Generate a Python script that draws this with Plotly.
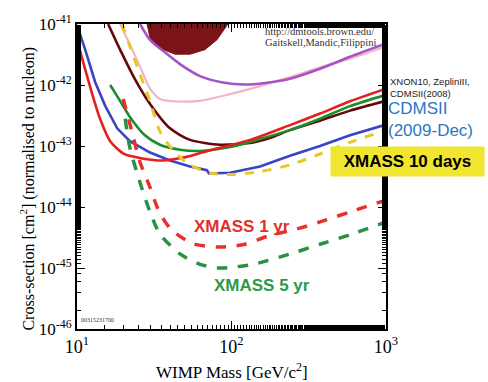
import plotly.graph_objects as go

# ---------------- data (WIMP mass [GeV], cross-section [cm^2]) ----------------
purple_m = [25.6, 29.7, 37.2, 46.4, 62.5, 88, 122, 165, 239, 374, 585, 1000]
purple_s = [1e-41, 5.5e-42, 3.4e-42, 2.2e-42, 1.4e-42, 1.1e-42, 1.02e-42, 1.08e-42, 1.27e-42, 1.85e-42, 2.9e-42, 4.8e-42]

pink_m = [19.0, 22.0, 25.6, 29.7, 34.4, 43.1, 62.5, 97.8, 153, 239, 374, 585, 1000]
pink_s = [1e-41, 4.6e-42, 2.0e-42, 8.7e-43, 5.9e-43, 5.4e-43, 5.5e-43, 7.1e-43, 9.6e-43, 1.35e-42, 1.95e-42, 2.7e-42, 4.3e-42]

dama_m = [28.4, 29.7, 34.4, 43.1, 53.9, 67.3, 80.5, 94.8, 94.8, 28.4]
dama_s = [1e-41, 5.9e-42, 4.0e-42, 3.2e-42, 3.2e-42, 3.8e-42, 5.5e-42, 9.6e-42, 1e-41, 1e-41]

maroon_m = [15.9, 19.0, 23.7, 29.7, 40.0, 53.9, 84.3, 132, 177, 239, 374, 585, 1000]
maroon_s = [1e-41, 3.8e-42, 1.25e-42, 4.9e-43, 1.95e-43, 1.26e-43, 1.05e-43, 1.12e-43, 1.35e-43, 1.82e-43, 2.6e-43, 3.8e-43, 5.5e-43]

red_m = [10, 11.3, 12.7, 14.1, 16.4, 20.0, 27.0, 36.0, 48.0, 70.0, 132, 239, 374, 585, 1000]
red_s = [5.5e-42, 1.8e-42, 6.4e-43, 2.8e-43, 1.2e-43, 7.5e-44, 6.2e-44, 5.8e-44, 6.4e-44, 8.3e-44, 1.26e-43, 2.2e-43, 3.4e-43, 5.4e-43, 8.7e-43]

green_m = [16.4, 19.0, 22.0, 27.5, 34.4, 46.4, 62.5, 97.8, 153, 239, 374, 585, 1000]
green_s = [1.0e-42, 5.5e-43, 3.0e-43, 1.5e-43, 1.05e-43, 8.7e-44, 8.3e-44, 9.6e-44, 1.3e-43, 1.82e-43, 2.8e-43, 4.5e-43, 6.9e-43]

blue_m = [10, 11.3, 13.1, 15.2, 18.2, 22.0, 29.7, 40.0, 53.9, 69.3, 71.5, 97.8, 153, 239, 374, 585, 1000]
blue_s = [9.6e-42, 3.8e-42, 1.12e-42, 4.6e-43, 1.95e-43, 1.2e-43, 7.8e-44, 5.8e-44, 4.6e-44, 4.0e-44, 3.55e-44, 3.65e-44, 4.6e-44, 6.9e-44, 1.0e-43, 1.5e-43, 2.25e-43]

yellow_m = [19.6, 22.0, 25.6, 29.7, 34.4, 43.1, 53.9, 72.6, 97.8, 153, 239, 374, 585, 1000]
yellow_s = [1e-41, 4.3e-42, 1.5e-42, 5.4e-43, 1.74e-43, 7.8e-44, 4.9e-44, 3.6e-44, 3.4e-44, 3.8e-44, 4.9e-44, 7.4e-44, 1.15e-43, 1.8e-43]

x1yr_m = [19.9, 22.0, 25.6, 29.7, 33.0, 37.2, 41.8, 56.4, 84.3, 122, 170, 277, 374, 585, 1000]
x1yr_s = [5.9e-43, 2.3e-43, 5.4e-44, 2.1e-44, 1.0e-44, 5.7e-45, 4.0e-45, 2.5e-45, 2.2e-45, 2.45e-45, 3.3e-45, 4.5e-45, 5.7e-45, 8.3e-45, 1.3e-44]

x5yr_m = [20.5, 22.0, 25.6, 29.7, 34.4, 46.4, 62.5, 84.3, 138, 239, 374, 585, 1000]
x5yr_s = [2.8e-43, 9.3e-44, 2.5e-44, 8.3e-45, 3.6e-45, 1.7e-45, 1.15e-45, 1.0e-45, 1.15e-45, 1.7e-45, 2.45e-45, 3.5e-45, 5.7e-45]

x_tickvals = [10, 100, 1000]
x_ticktext = ["10<sup>1</sup>", "10<sup>2</sup>", "10<sup>3</sup>"]
y_tickvals = [1e-41, 1e-42, 1e-43, 1e-44, 1e-45, 1e-46]
y_ticktext = ["10<sup>-41</sup>", "10<sup>-42</sup>", "10<sup>-43</sup>",
              "10<sup>-44</sup>", "10<sup>-45</sup>", "10<sup>-46</sup>"]

# ---------------- figure ----------------
fig = go.Figure()

fig.add_trace(go.Scatter(x=dama_m, y=dama_s, mode="lines", fill="toself",
                         fillcolor="#7a1418", line=dict(color="#7a1418", width=1),
                         hoverinfo="skip"))

def line(xs, ys, color, width=2.6, dash="solid", shape="spline"):
    fig.add_trace(go.Scatter(x=xs, y=ys, mode="lines",
                             line=dict(color=color, width=width, dash=dash, shape=shape,
                                       smoothing=0.7)))

line(pink_m, pink_s, "#f2b6bf", 2.2)
line(purple_m, purple_s, "#a752c6", 2.6)
line(maroon_m, maroon_s, "#65080d", 2.6)
line(blue_m, blue_s, "#3a44c4", 2.6, shape="linear")
line(green_m, green_s, "#1c8c2c", 2.6)
line(red_m, red_s, "#e4201e", 2.6)
line(yellow_m, yellow_s, "#ebc726", 3, "dash")
line(x1yr_m, x1yr_s, "#e8302c", 3.5, "dash")
line(x5yr_m, x5yr_s, "#2a9042", 3.5, "dash")

serif = "Liberation Serif, Times New Roman, serif"
sans = "Liberation Sans, Arial, sans-serif"

fig.update_layout(
    width=488, height=382,
    margin=dict(l=77, r=102, t=19, b=53),
    paper_bgcolor="white", plot_bgcolor="white",
    showlegend=False,
    font=dict(family=serif, color="black"),
    xaxis=dict(type="log", range=[1, 3], tickvals=x_tickvals, ticktext=x_ticktext,
               ticks="inside", ticklen=8, tickwidth=1, tickcolor="black",
               showline=True, linecolor="black", linewidth=2, mirror="allticks",
               showgrid=False, zeroline=False,
               tickfont=dict(family=serif, size=18),
               minor=dict(ticks="inside", ticklen=4, tickcolor="black", showgrid=False)),
    yaxis=dict(type="log", range=[-46, -41], tickvals=y_tickvals, ticktext=y_ticktext,
               ticks="inside", ticklen=8, tickwidth=1, tickcolor="black",
               showline=True, linecolor="black", linewidth=2, mirror="allticks",
               showgrid=False, zeroline=False,
               tickfont=dict(family=serif, size=17),
               minor=dict(ticks="inside", ticklen=4, tickcolor="black", showgrid=False)),
)

ann = []
ann.append(dict(x=-0.159, y=0.46, text="Cross-section [cm<sup>2</sup>] (normalised to nucleon)",
                textangle=-90, xanchor="center",
                font=dict(family=serif, size=16, color="black")))
ann.append(dict(x=0.5, y=-0.139, text="WIMP Mass [GeV/c<sup>2</sup>]", xanchor="center",
                font=dict(family=serif, size=17, color="black")))
ann.append(dict(x=0.602, y=0.974, text="http://dmtools.brown.edu/", xanchor="left",
                font=dict(family=serif, size=10.5, color="#333")))
ann.append(dict(x=0.602, y=0.939, text="Gaitskell,Mandic,Filippini", xanchor="left",
                font=dict(family=serif, size=10.5, color="#333")))
ann.append(dict(x=1.008, y=0.792, text="XNON10, ZeplinIII,<br>CDMSII(2008)", xanchor="left",
                align="left", font=dict(family=sans, size=9.5, color="#222")))
ann.append(dict(x=1.0, y=0.686, text="CDMSII<br>(2009-Dec)", xanchor="left", align="left",
                font=dict(family=sans, size=17, color="#2a78c2")))
ann.append(dict(x=1.069, y=0.55, text="<b>XMASS 10 days</b>", width=151, height=27,
                xanchor="center", bgcolor="#f0e630",
                font=dict(family=sans, size=17, color="black")))
ann.append(dict(x=0.534, y=0.335, text="<b>XMASS 1 yr</b>", xanchor="center",
                font=dict(family=sans, size=17, color="#e0302a")))
ann.append(dict(x=0.599, y=0.142, text="<b>XMASS 5 yr</b>", xanchor="center",
                font=dict(family=sans, size=17, color="#2e9a48")))
ann.append(dict(x=0.005, y=0.012, text="00315231700", xanchor="left", yanchor="bottom",
                font=dict(family=serif, size=6, color="#333")))
for a in ann:
    a.update(xref="paper", yref="paper", showarrow=False)
    a.setdefault("yanchor", "middle")
fig.update_layout(annotations=ann)

fig.write_html("out.html")
